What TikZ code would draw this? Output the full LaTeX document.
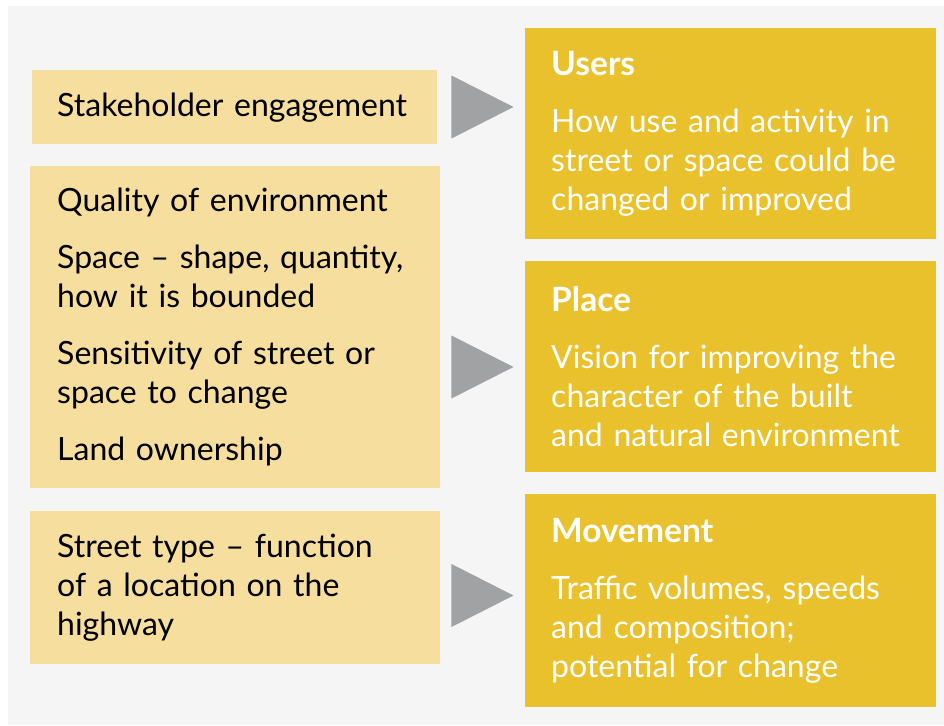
\documentclass[tikz,border=0pt]{standalone}
\usepackage{fontspec}
\setmainfont{Lato}
\usetikzlibrary{shapes.geometric}
\definecolor{pagegray}{HTML}{F5F5F5}
\definecolor{inputtan}{HTML}{F6DE9E}
\definecolor{outgold}{HTML}{E8C12C}
\definecolor{arrowgray}{HTML}{A1A2A4}
\newcommand{\boxfont}{\fontsize{32}{39}\selectfont}
\newcommand{\boxhead}[1]{{\fontsize{33.5}{39}\selectfont\bfseries #1}}

\begin{document}
\begin{tikzpicture}[
  x=1pt, y=-1pt,
  inbox/.style={anchor=north west, fill=inputtan, inner xsep=27pt,
                inner ysep=0pt, align=left, font=\boxfont,
                minimum width=410pt, text width=356pt},
  outbox/.style={anchor=north west, fill=outgold, text=white, inner xsep=26pt,
                 inner ysep=0pt, align=left, font=\boxfont,
                 minimum width=411pt, minimum height=211pt,
                 text width=359pt},
  pointer/.style={isosceles triangle, isosceles triangle stretches,
                  fill=arrowgray, inner sep=0pt, anchor=apex,
                  minimum width=63pt, minimum height=62pt}
]
\useasboundingbox (0,0) rectangle (944,725);
\fill[pagegray] (8,6) rectangle (944,725);

% ---------------- Inputs ----------------
\node[inbox, minimum height=74pt, inner xsep=25pt, minimum width=405pt,
      text width=355pt] (stake) at (32,70)
  {Stakeholder engagement};
\node[inbox, minimum height=322pt] (env) at (30,166)
  {Quality of environment\\[18pt]
   Space -- shape, quantity,\\how it is bounded\\[18pt]
   Sensitivity of street or\\space to change\\[18pt]
   Land ownership};
\node[inbox, minimum height=153pt] (street) at (30,511)
  {Street type -- function\\of a location on the\\highway};

% ---------------- Outcomes ----------------
\node[outbox] (users) at (525,28)
  {\boxhead{Users}\\[18pt]
   How use and activity in\\street or space could be\\changed or improved};
\node[outbox] (place) at (525,261)
  {\boxhead{Place}\\[18pt]
   Vision for improving the\\character of the built\\and natural environment};
\node[outbox, minimum height=213pt] (move) at (525,494)
  {\boxhead{Movement}\\[18pt]
   Traffic volumes, speeds\\and composition;\\potential for change};

% ---------------- Pointers ----------------
\node[pointer] (p1) at (514,107) {};
\node[pointer] (p2) at (514,367) {};
\node[pointer] (p3) at (514,595.5) {};

\end{tikzpicture}
\end{document}
